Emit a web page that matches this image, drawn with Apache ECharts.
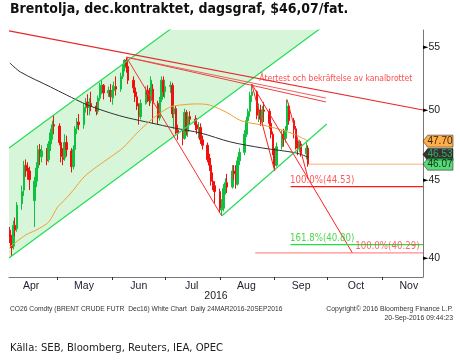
<!DOCTYPE html>
<html><head><meta charset="utf-8">
<script src="https://cdn.jsdelivr.net/npm/echarts@6/dist/echarts.min.js"></script>
<style>html,body{margin:0;padding:0;background:#fff}#c{width:460px;height:361px}</style>
</head><body><div id="c"></div>
<script>
// ---------- data ----------
const tradingStart = [2016, 4, 4];
const tradingEnd = [2016, 9, 20];
const opens = [
 41.7,41.2,40.7,42.0,41.8, 43.4,44.3,46.0,45.8,45.6, 43.6,44.9,45.8,47.1,46.6, 47.0,46.4,47.5,48.3,48.9,
 48.8,47.6,46.6,46.5,47.6, 47.0,45.9,47.1,48.6,49.1, 48.9,50.2,50.6,50.2,50.5, 50.3,49.9,50.9,51.8,51.9,
 51.3,51.5,51.0,51.5,51.8, 51.6,52.6,53.3,53.9,53.4, 52.3,51.7,51.0,50.3,49.5, 50.5,51.5,51.2,50.7,51.6,
 50.5,49.4,50.8,52.3,51.4, 51.8,51.9,49.7,50.1,48.5, 48.3,47.9,49.8,48.4,49.5, 49.3,48.9,48.6,48.7,47.8,
 47.4,46.4,46.0,44.9,44.6, 44.2,43.0,43.1,44.4,44.8, 44.5,45.6,45.4,44.7,46.3, 46.9,48.2,49.2,49.9,51.1,
 51.4,49.6,50.0,49.3,50.0, 49.9,49.0,48.2,47.0,46.0, 47.3,48.2,47.9,48.5,50.3, 49.2,48.6,47.4,47.2,47.5,
 46.8,47.2];
const closes = [
 41.2,40.6,42.0,41.7,43.3, 44.2,46.0,45.8,45.6,45.0, 44.9,45.8,47.1,46.6,47.0, 46.3,47.5,48.3,48.9,48.8,
 47.6,46.6,46.4,47.6,47.1, 45.9,47.1,48.6,49.1,48.9, 50.2,50.6,50.2,50.5,50.3, 49.9,50.9,51.8,51.9,51.3,
 51.5,51.0,51.5,51.8,51.6, 52.6,53.3,53.9,53.4,52.3, 51.7,51.0,50.3,49.5,50.5, 51.5,51.2,50.7,52.3,50.5,
 49.4,50.8,52.3,51.4,51.8, 51.9,49.7,50.1,48.5,48.3, 47.9,49.8,48.4,49.5,49.3, 48.9,48.6,48.7,47.8,47.4,
 46.4,46.0,44.9,44.6,44.2, 43.0,43.1,44.4,44.8,44.5, 45.6,45.4,44.7,46.3,46.9, 48.2,49.2,49.9,51.1,51.4,
 49.6,50.0,49.3,50.0,49.9, 49.0,48.2,47.0,46.0,47.3, 48.2,47.9,48.5,50.3,49.2, 48.6,47.4,47.2,47.5,46.8,
 47.2,46.07];
const lows = [
 40.9,40.1,40.5,41.3,41.6, 43.0,43.9,45.2,45.0,44.3, 41.9,44.5,45.4,46.0,46.2, 46.0,46.2,47.0,47.8,48.2,
 47.4,46.2,46.0,46.3,46.6, 45.5,45.7,46.9,48.2,48.5, 48.6,49.8,49.6,49.6,49.9, 49.6,49.7,50.7,51.2,50.8,
 51.0,50.6,50.4,50.9,51.1, 51.4,52.4,53.0,52.9,52.0, 51.3,50.6,50.0,48.9,49.3, 50.4,50.6,50.3,50.5,49.0,
 48.9,49.2,50.6,51.0,50.9, 51.3,49.4,48.6,48.2,47.8, 47.4,47.8,48.1,48.0,48.9, 48.5,48.2,47.9,47.5,47.1,
 46.2,45.6,44.6,44.3,43.4, 42.8,42.6,42.9,44.0,44.1, 44.4,45.0,44.4,44.6,46.0, 46.7,48.0,48.6,49.5,50.6,
 49.3,49.1,48.8,48.9,49.1, 48.6,47.9,46.7,45.6,45.9, 47.1,47.3,47.6,48.4,48.9, 47.9,47.1,46.7,46.9,46.6,
 46.4,45.9];
const highs = [
 41.9,41.4,42.3,42.5,43.5, 44.6,46.3,46.4,46.2,45.9, 45.2,46.2,47.4,47.5,47.4, 47.2,47.7,48.6,49.2,49.6,
 49.0,47.8,47.2,48.2,48.1, 47.2,47.4,48.8,49.4,49.7, 50.5,50.9,51.2,50.9,51.4, 50.6,51.1,52.1,52.3,52.0,
 51.8,52.0,51.9,52.2,52.6, 52.9,53.5,54.0,54.15,53.5, 52.6,52.0,51.4,50.5,50.8, 51.8,51.9,51.7,52.6,52.0,
 50.7,51.0,52.6,52.6,52.3, 52.2,52.1,50.4,50.3,48.9, 48.6,50.1,50.0,49.8,49.9, 49.6,49.4,49.1,49.0,48.1,
 47.6,46.8,46.5,45.5,44.9, 44.4,43.7,44.7,45.1,45.4, 46.0,46.0,46.0,46.6,47.2, 48.5,49.5,50.1,51.4,52.0,
 51.5,50.5,50.4,50.3,50.6, 50.1,49.2,48.4,47.2,47.6, 48.5,48.6,48.8,50.8,50.5, 49.4,48.8,47.8,47.8,47.7,
 47.6,47.4];

const maLongDates  = ['2016-04-04','2016-04-10','2016-04-27','2016-05-06','2016-05-18','2016-05-31','2016-06-10','2016-06-23','2016-07-06','2016-07-21','2016-08-07','2016-08-25','2016-09-13','2016-09-20'];
const maLongValues = [53.68,52.95,51.77,51.15,50.38,49.77,49.40,49.03,48.66,48.29,47.64,47.21,46.86,46.55];
const maShortDates  = ['2016-04-04','2016-04-13','2016-04-19','2016-04-26','2016-05-01','2016-05-05','2016-05-10','2016-05-16','2016-05-23','2016-05-31','2016-06-07','2016-06-15','2016-06-23','2016-06-29','2016-07-04','2016-07-10','2016-07-18','2016-07-26','2016-08-05','2016-08-12','2016-08-18','2016-08-25','2016-09-05','2016-09-13','2016-09-20'];
const maShortValues = [40.66,41.40,41.71,42.22,43.18,43.64,44.31,45.19,45.87,46.57,47.21,48.29,49.25,49.85,50.23,50.38,50.46,50.38,49.80,49.25,49.03,48.88,48.51,48.15,47.70];

const yTicks = [40, 45, 50, 55];
const monthNames = ['Jan','Feb','Mar','Apr','May','Jun','Jul','Aug','Sep','Oct','Nov','Dec'];
const monthLabelDates = ['2016-04-16','2016-05-16','2016-06-16','2016-07-16','2016-08-16','2016-09-16','2016-10-17','2016-11-16'];
const monthTickDates = ['2016-05-01','2016-06-01','2016-07-01','2016-08-01','2016-09-01','2016-10-01','2016-11-01'];
const xRange = ['2016-04-03 12:00', '2016-11-24 00:00'];
const yRange = [38.85, 56.42];

// drawn annotations (date, price)
const channelUpper = [['2016-04-03 12:00', 47.21], ['2016-07-26 00:00', 59.0]];
const channelLower = [['2016-04-03 12:00', 39.98], ['2016-10-08 12:00', 57.86]];
const resistance   = [['2016-04-03 12:00', 56.34], ['2016-11-24 00:00', 50.0]];
const peakFanA     = [['2016-06-09', 54.15], ['2016-09-30', 50.91]];
const peakFanB     = [['2016-06-09', 54.15], ['2016-09-30', 50.61]];
const downLeg      = [['2016-06-09', 54.15], ['2016-08-02', 42.6]];
const augSupport   = [['2016-08-02', 42.6], ['2016-09-30 12:00', 48.95]];
const augLegA      = [['2016-08-19', 52.0], ['2016-09-01', 45.6]];
const augLegB      = [['2016-08-19', 52.0], ['2016-10-15', 40.29]];
const sepLeg       = [['2016-09-08', 50.8], ['2016-09-20', 45.05]];
const fib100a      = [['2016-09-10', 44.53], ['2016-11-24', 44.53]];
const fib1618      = [['2016-09-10', 40.80], ['2016-11-24', 40.80]];
const fib100b      = [['2016-08-21', 40.29], ['2016-11-24', 40.29]];
const lastPriceLine = [['2016-09-20', 46.07], ['2016-11-24', 46.07]];
const annotationText = 'Återtest och bekräftelse av kanalbrottet';
const annotationAt = ['2016-08-23 12:00', 52.40];
const fibLabels = [
  {at: ['2016-09-10', 44.53], text: '100.0%(44.53)', color: '#ff3030', align: 'left'},
  {at: ['2016-09-10', 40.80], text: '161.8%(40.80)', color: '#22cc22', align: 'left'},
  {at: ['2016-11-24', 40.29], text: '100.0%(40.29)', color: '#ff4040', align: 'right'}
];
const tags = [
  {value: 47.70, text: '47.70', bg: '#ff9a1a', fg: '#000', dy: 0, z: 20},
  {value: 46.53, text: '46.53', bg: '#000000', fg: '#3c6', dy: -3, z: 19},
  {value: 46.07, text: '46.07', bg: '#2fd158', fg: '#000', dy: 0, z: 21}
];

// ---------- helpers ----------
function T(s) {
  const [d, t = '00:00'] = s.split(' ');
  const [y, m, dd] = d.split('-').map(Number);
  const [hh, mm] = t.split(':').map(Number);
  return new Date(y, m - 1, dd, hh, mm).getTime();
}
function fmt(d) {
  const p = n => (n < 10 ? '0' : '') + n;
  return d.getFullYear() + '-' + p(d.getMonth() + 1) + '-' + p(d.getDate());
}
const dates = (function () {
  const out = [];
  const d = new Date(tradingStart[0], tradingStart[1] - 1, tradingStart[2]);
  const end = new Date(tradingEnd[0], tradingEnd[1] - 1, tradingEnd[2]);
  while (d <= end) {
    const w = d.getDay();
    if (w > 0 && w < 6) out.push(fmt(d));
    d.setDate(d.getDate() + 1);
  }
  return out;
})();

const NARROW = "'Liberation Sans Narrow', 'DejaVu Sans Condensed', 'Liberation Sans', sans-serif";
const SANS = "'Liberation Sans', 'DejaVu Sans', sans-serif";

function seg(pts, color, width, z) {
  return {
    type: 'line', data: pts.map(p => [T(p[0]), p[1]]), showSymbol: false, symbol: 'none',
    silent: true, clip: true, z: z || 4, lineStyle: {color: color, width: width || 1}
  };
}
function note(pt, text, color, size, align, vAlign, offset) {
  return {
    type: 'scatter', data: [[T(pt[0]), pt[1]]], symbolSize: 1, silent: true, clip: false, z: 6,
    itemStyle: {color: 'rgba(0,0,0,0)'},
    label: {show: true, formatter: text, color: color, fontSize: size, fontFamily: NARROW,
      position: offset || [0, 0], align: align || 'left', verticalAlign: vAlign || 'middle'}
  };
}

const series = [];
series.push({
  type: 'custom', silent: true, clip: true, z: 1, data: [0],
  renderItem: function (params, api) {
    const poly = [channelUpper[0], channelUpper[1], channelLower[1], channelLower[0]]
      .map(p => api.coord([T(p[0]), p[1]]));
    return {type: 'polygon', shape: {points: poly}, style: {fill: '#d7f6d9'}};
  }
});
series.push({
  type: 'candlestick', z: 3, barWidth: 2, silent: true,
  encode: {x: 0, y: [1, 2, 3, 4]},
  data: dates.map((d, i) => [T(d), opens[i], closes[i], lows[i], highs[i]]),
  itemStyle: {color: '#10c040', color0: '#f01010', borderColor: '#10c040', borderColor0: '#f01010', borderWidth: 1}
});
series.push({type: 'line', data: maLongDates.map((d, i) => [T(d), maLongValues[i]]), smooth: 0.3, showSymbol: false,
  symbol: 'none', silent: true, z: 4, lineStyle: {color: '#303030', width: 1}});
series.push({type: 'line', data: maShortDates.map((d, i) => [T(d), maShortValues[i]]), smooth: 0.3, showSymbol: false,
  symbol: 'none', silent: true, z: 4, lineStyle: {color: '#f0a030', width: 1}});
series.push(seg(channelUpper, '#22dd55', 1.2));
series.push(seg(channelLower, '#22dd55', 1.2));
series.push(seg(resistance, '#e82828', 1.2));
series.push(seg(peakFanA, '#f06060', 1));
series.push(seg(peakFanB, '#f04040', 1));
series.push(seg(downLeg, '#ff3030', 1));
series.push(seg(augSupport, '#22dd55', 1.2));
series.push(seg(augLegA, '#ff2020', 1));
series.push(seg(augLegB, '#ff2020', 1));
series.push(seg(sepLeg, '#ff2020', 1));
series.push(seg(fib100a, '#ff1a1a', 1.2));
series.push(seg(fib1618, '#22dd44', 1.2));
series.push(seg(fib100b, '#ff7070', 1));
series.push(seg(lastPriceLine, '#f5b070', 1));
series.push(note(annotationAt, annotationText, '#ff2020', 8.5));
fibLabels.forEach(f => series.push(note(f.at, f.text, f.color, 9.6, f.align, 'bottom', [f.align === 'right' ? -3 : 0, -1])));
tags.forEach(t => series.push({
  type: 'scatter', data: [[T(xRange[1]), t.value]], clip: false, silent: true, z: t.z,
  symbol: 'path://M0,6 L5,0 L32,0 L32,12 L5,12 Z', symbolSize: [30, 12], symbolOffset: [15, t.dy],
  itemStyle: {color: t.bg, borderColor: '#222', borderWidth: 0.6},
  label: {show: true, position: 'inside', formatter: t.text, color: t.fg, fontSize: 10, fontFamily: SANS, offset: [2, 0]}
}));

const chart = echarts.init(document.getElementById('c'), null, {renderer: 'canvas'});
chart.setOption({
  animation: false,
  backgroundColor: '#ffffff',
  title: [
    {text: 'Brentolja, dec.kontraktet, dagsgraf, $46,07/fat.', left: 10, top: 2, padding: 0,
      textStyle: {fontFamily: NARROW, fontWeight: 'bold', fontSize: 14, color: '#111'}},
    {text: 'CO26 Comdty (BRENT CRUDE FUTR  Dec16) White Chart  Daily 24MAR2016-20SEP2016', left: 10, top: 306, padding: 0,
      textStyle: {fontFamily: SANS, fontSize: 6.7, fontWeight: 'normal', color: '#333'}},
    {text: 'Copyright\u00a9 2016 Bloomberg Finance L.P.', right: 7, top: 306, padding: 0,
      textStyle: {fontFamily: SANS, fontSize: 6.9, fontWeight: 'normal', color: '#333'}},
    {text: '20-Sep-2016 09:44:23', right: 7, top: 315, padding: 0,
      textStyle: {fontFamily: SANS, fontSize: 6.9, fontWeight: 'normal', color: '#333'}},
    {text: 'Källa: SEB, Bloomberg, Reuters, IEA, OPEC', left: 10, top: 343, padding: 0,
      textStyle: {fontFamily: NARROW, fontSize: 11.2, fontWeight: 'normal', color: '#222'}}
  ],
  grid: {left: 9, right: 37, top: 30, bottom: 84, outerBoundsMode: 'none'},
  xAxis: {
    type: 'value', min: T(xRange[0]), max: T(xRange[1]),
    splitLine: {show: false},
    axisLine: {show: true, lineStyle: {color: '#777', width: 1}},
    axisTick: {show: true, customValues: monthTickDates.map(T), length: 3, lineStyle: {color: '#333'}},
    axisLabel: {customValues: monthLabelDates.map(T), formatter: v => monthNames[new Date(v).getMonth()],
      color: '#223', fontSize: 10.5, fontFamily: SANS, margin: 4},
    name: '2016', nameLocation: 'middle', nameGap: 14, nameMoveOverlap: false,
    nameTextStyle: {color: '#222', fontSize: 10.5, fontFamily: SANS, verticalAlign: 'top'}
  },
  yAxis: {
    type: 'log', logBase: 10, position: 'right', min: yRange[0], max: yRange[1],
    splitLine: {show: false},
    axisLine: {show: true, lineStyle: {color: '#777', width: 1}},
    axisTick: {show: false},
    axisLabel: {customValues: yTicks, margin: 0,
      formatter: v => '{a|\u25ba}{b|' + Math.round(v) + '}',
      rich: {a: {fontSize: 7, color: '#000', fontFamily: 'DejaVu Sans'}, b: {fontSize: 10.5, color: '#222', fontFamily: SANS}}}
  },
  series: series
});
</script>
</body></html>
